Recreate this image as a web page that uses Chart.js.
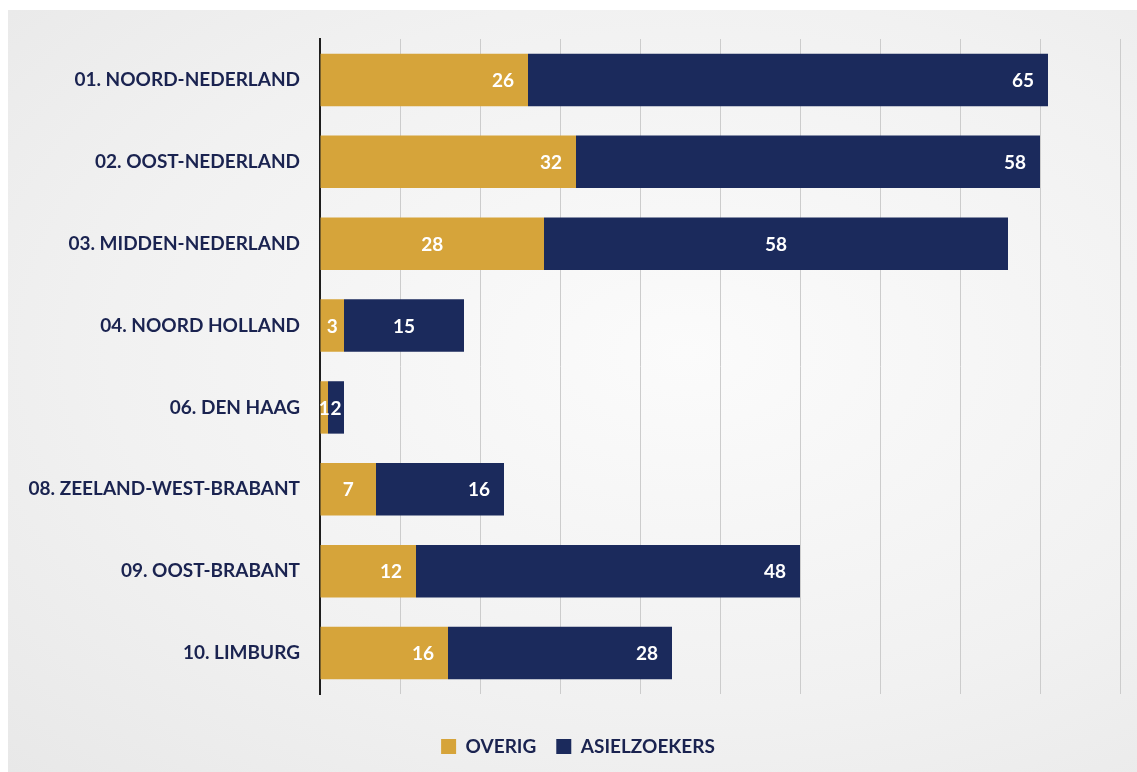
<!DOCTYPE html>
<html><head><meta charset="utf-8">
<script src="https://cdn.jsdelivr.net/npm/chart.js@4/dist/chart.umd.min.js"></script>
<style>
html,body{margin:0;padding:0;}
body{width:1137px;height:772px;overflow:hidden;background:#ffffff;}
#bg{position:absolute;left:8px;top:10px;width:1129px;height:762px;
background: radial-gradient(ellipse at 60% 45%, #fbfbfb 0%, #f1f1f1 60%, #e8e8e8 100%);}
#wrap{position:absolute;left:0;top:0;width:1137px;height:772px;}
</style></head>
<body><div id="bg"></div><div id="wrap"><canvas id="c" width="1137" height="772"></canvas></div>
<script>
const categories = ["01. NOORD-NEDERLAND","02. OOST-NEDERLAND","03. MIDDEN-NEDERLAND","04. NOORD HOLLAND","06. DEN HAAG","08. ZEELAND-WEST-BRABANT","09. OOST-BRABANT","10. LIMBURG"];
const overig = [26,32,28,3,1,7,12,16];
const asielzoekers = [65,58,58,15,2,16,48,28];
const seriesNames = ["OVERIG","ASIELZOEKERS"];
const xMin = 0, xMax = 100, xStep = 10;
// label placement inside each segment ('end' or 'center')
const overigLabelAlign = ['end','end','center','center','center','center','end','end'];
const asielLabelAlign = ['end','end','center','center','center','end','end','end'];

const GOLD = '#d6a43a', NAVY = '#1b2a5c', TEXT = '#1a2350';
const FONT = 'Lato, "Open Sans", sans-serif';

const labelPlugin = {
  id: 'segLabels',
  afterDatasetsDraw(chart) {
    const ctx = chart.ctx;
    ctx.save();
    ctx.font = 'bold 19px ' + FONT;
    ctx.fillStyle = '#ffffff';
    ctx.textBaseline = 'middle';
    ctx.textAlign = 'center';
    const aligns = [overigLabelAlign, asielLabelAlign];
    chart.data.datasets.forEach((ds, di) => {
      const meta = chart.getDatasetMeta(di);
      meta.data.forEach((bar, i) => {
        const txt = String(ds.data[i]);
        const w = ctx.measureText(txt).width;
        const x0 = bar.base, x1 = bar.x;
        const pad = 14;
        let cx;
        if (aligns[di][i] === 'center' || (x1 - x0) < w + 2 * pad) cx = (x0 + x1) / 2;
        else cx = x1 - pad - w / 2;
        ctx.fillText(txt, cx, bar.y + 1);
      });
    });
    ctx.restore();
  }
};

// shift the legend block slightly right, as in the original slide
const legendShift = {
  id: 'legendShift',
  afterLayout(chart) {
    if (chart.legend) { chart.legend.left += 18; chart.legend.right += 18; }
  }
};

new Chart(document.getElementById('c'), {
  type: 'bar',
  data: {
    labels: categories,
    datasets: [
      {label: seriesNames[0], data: overig, backgroundColor: GOLD},
      {label: seriesNames[1], data: asielzoekers, backgroundColor: NAVY}
    ]
  },
  options: {
    indexAxis: 'y',
    responsive: false,
    animation: false,
    devicePixelRatio: 1,
    layout: {padding: {top: 39, right: 17, bottom: 6, left: 0}},
    datasets: {bar: {barPercentage: 0.64, categoryPercentage: 1.0}},
    scales: {
      x: {
        stacked: true, min: xMin, max: xMax,
        afterFit(scale) { scale.height = 23; },
        ticks: {display: false, stepSize: xStep},
        grid: {color: '#cccccc', lineWidth: 1, drawTicks: false},
        border: {display: false}
      },
      y: {
        stacked: true,
        afterFit(scale) { scale.width = 320; },
        ticks: {color: TEXT, font: {family: FONT, size: 19, weight: 'bold'}, padding: 12},
        grid: {display: false},
        border: {display: true, color: '#1e1e1e', width: 2}
      }
    },
    plugins: {
      legend: {
        position: 'bottom',
        labels: {color: TEXT, font: {family: FONT, size: 19, weight: 'bold'}, boxWidth: 15, boxHeight: 15, padding: 20}
      },
      tooltip: {enabled: false}
    }
  },
  plugins: [labelPlugin, legendShift]
});
</script></body></html>
